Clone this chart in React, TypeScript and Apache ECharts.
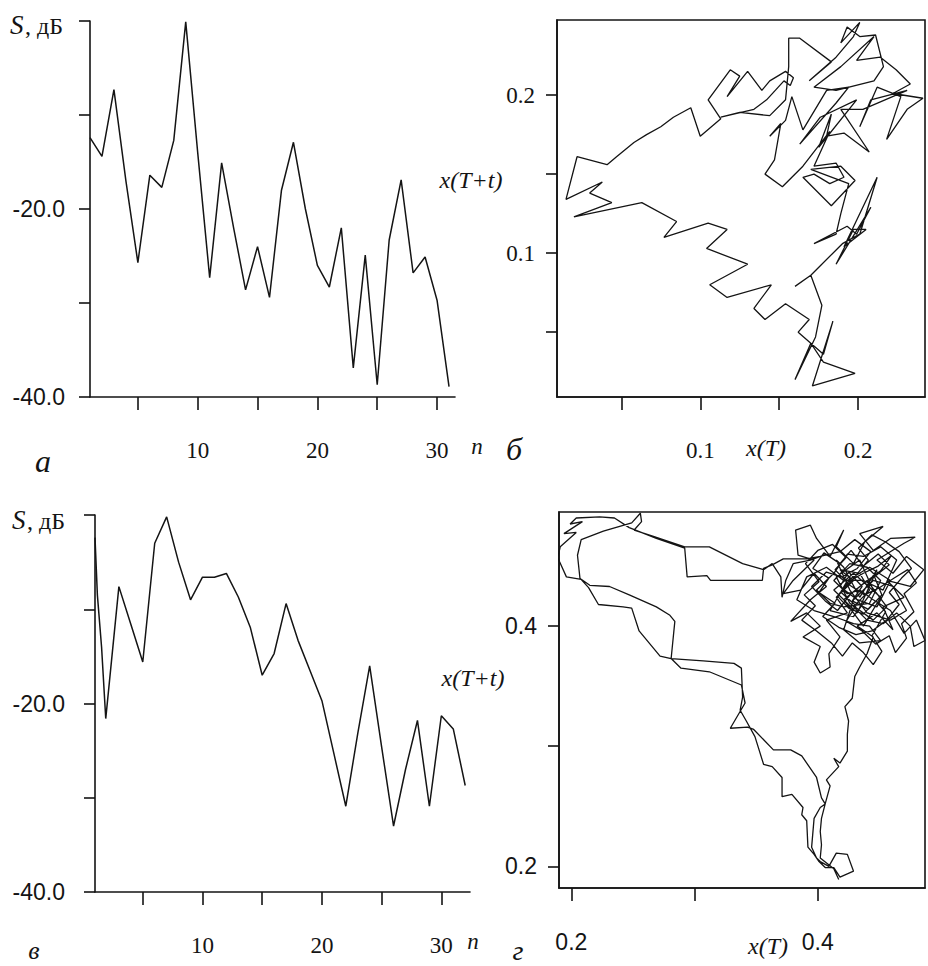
import React, { useEffect, useRef } from "react";
import * as echarts from "echarts";

// ---- Panel а: spectrum S(n), dB ----
const specA_n = [1, 2, 3, 4, 5, 6, 7, 8, 9, 10, 11, 12, 13, 14, 15, 16, 17, 18, 19, 20, 21, 22, 23, 24, 25, 26, 27, 28, 29, 30, 31];
const specA_S = [-12.4, -14.4, -7.3, -17, -25.7, -16.4, -17.7, -12.7, -0.1, -14, -27.3, -15.1, -22, -28.6, -24, -29.4, -18, -12.9, -20, -26, -28.3, -22, -36.9, -24.9, -38.7, -23.3, -16.9, -26.8, -25.1, -29.7, -38.9];

// ---- Panel в: spectrum S(n), dB ----
const specC_n = [1, 1.2, 1.55, 1.9, 3, 4, 5, 6, 7, 8, 9, 10, 11, 12, 13, 14, 15, 16, 17, 18, 19, 20, 21, 22, 23, 24, 25, 26, 27, 28, 29, 30, 31, 32];
const specC_S = [-2.4, -8.5, -14, -21.6, -7.6, -11.6, -15.6, -3.0, -0.2, -5, -9.0, -6.6, -6.6, -6.2, -8.7, -11.9, -17.0, -14.7, -9.4, -13.3, -16.5, -19.7, -25.3, -30.9, -23.2, -16.0, -24.6, -33.0, -27, -21.8, -30.9, -21.3, -22.7, -28.7];

const nTicks = [5, 10, 15, 20, 25, 30];
const nLabels = [10, 20, 30];
const sTicks = [-40, -30, -20, -10, 0];
const sLabels = [-40, -20];

// ---- Panel б: phase portrait x(T) vs x(T+t) ----
const portraitB: [number, number][] = [
  [0.160, 0.079], [0.170, 0.086], [0.177, 0.067], [0.173, 0.047], [0.160, 0.020], [0.170, 0.043], [0.178, 0.031], [0.198, 0.024],
  [0.171, 0.016], [0.184, 0.057], [0.178, 0.036], [0.170, 0.043], [0.162, 0.050], [0.169, 0.058], [0.154, 0.068], [0.141, 0.058],
  [0.134, 0.065], [0.145, 0.080], [0.117, 0.072], [0.106, 0.080], [0.130, 0.093], [0.104, 0.103], [0.117, 0.115], [0.105, 0.119],
  [0.077, 0.110], [0.085, 0.120], [0.063, 0.132], [0.020, 0.123], [0.044, 0.132], [0.030, 0.138], [0.038, 0.145], [0.015, 0.134],
  [0.022, 0.161], [0.041, 0.156], [0.047, 0.161], [0.058, 0.170], [0.066, 0.175], [0.075, 0.180], [0.083, 0.186], [0.094, 0.192],
  [0.100, 0.174], [0.113, 0.185], [0.105, 0.197], [0.119, 0.216], [0.125, 0.212], [0.117, 0.199], [0.130, 0.215], [0.139, 0.203],
  [0.144, 0.209], [0.154, 0.215], [0.159, 0.211], [0.157, 0.206], [0.153, 0.209], [0.142, 0.197], [0.134, 0.191], [0.113, 0.186],
  [0.125, 0.189], [0.144, 0.187], [0.154, 0.197], [0.156, 0.218], [0.156, 0.236], [0.163, 0.236], [0.183, 0.221], [0.169, 0.209],
  [0.186, 0.224], [0.197, 0.237], [0.201, 0.246], [0.189, 0.233], [0.193, 0.243], [0.201, 0.237], [0.211, 0.238], [0.216, 0.218],
  [0.210, 0.209], [0.186, 0.203], [0.172, 0.205], [0.189, 0.218], [0.210, 0.237], [0.199, 0.222], [0.214, 0.224], [0.224, 0.216],
  [0.233, 0.207], [0.222, 0.201], [0.241, 0.198], [0.231, 0.191], [0.218, 0.172], [0.227, 0.199], [0.212, 0.205], [0.201, 0.180],
  [0.208, 0.197], [0.231, 0.203], [0.203, 0.191], [0.189, 0.191], [0.207, 0.164], [0.191, 0.176], [0.180, 0.174], [0.183, 0.188],
  [0.175, 0.167], [0.199, 0.197], [0.176, 0.186], [0.163, 0.169], [0.186, 0.195], [0.194, 0.205], [0.180, 0.203], [0.165, 0.178],
  [0.158, 0.199], [0.154, 0.184], [0.144, 0.174], [0.151, 0.182], [0.147, 0.159], [0.141, 0.150], [0.152, 0.142], [0.165, 0.155],
  [0.182, 0.177], [0.172, 0.155], [0.186, 0.157], [0.191, 0.148], [0.182, 0.144], [0.172, 0.150], [0.165, 0.148], [0.183, 0.130],
  [0.198, 0.146], [0.189, 0.155], [0.170, 0.153], [0.194, 0.144], [0.189, 0.125], [0.186, 0.112], [0.172, 0.106], [0.193, 0.117],
  [0.199, 0.112], [0.208, 0.129], [0.186, 0.093], [0.197, 0.115], [0.205, 0.115], [0.191, 0.104], [0.212, 0.148], [0.201, 0.112],
  [0.190, 0.106], [0.170, 0.086],
];
const bTicks = [0.05, 0.1, 0.15, 0.2];
const bLabels = [0.1, 0.2];

// ---- Panel г: phase portrait x(T) vs x(T+t) ----
const portraitD: [number, number][] = [
  // lower right branch up to the cluster
  [0.417, 0.189], [0.413, 0.198], [0.402, 0.207], [0.403, 0.218], [0.402, 0.229], [0.403, 0.240], [0.406, 0.252], [0.410, 0.267],
  [0.407, 0.272], [0.417, 0.283], [0.413, 0.290], [0.418, 0.286], [0.424, 0.296], [0.424, 0.310], [0.425, 0.321], [0.422, 0.333],
  [0.428, 0.340], [0.430, 0.358], [0.434, 0.366], [0.440, 0.377],
  // cluster
  [0.445, 0.391], [0.432, 0.400], [0.448, 0.411], [0.461, 0.397], [0.453, 0.416], [0.470, 0.424], [0.456, 0.438], [0.475, 0.433],
  [0.486, 0.447], [0.472, 0.458], [0.461, 0.444], [0.448, 0.455], [0.470, 0.469], [0.479, 0.474], [0.459, 0.473], [0.445, 0.463],
  [0.434, 0.477], [0.453, 0.483], [0.438, 0.470], [0.429, 0.452], [0.415, 0.466], [0.421, 0.480], [0.410, 0.458], [0.399, 0.473],
  [0.394, 0.484], [0.382, 0.480], [0.384, 0.459], [0.397, 0.455], [0.380, 0.438], [0.372, 0.427], [0.386, 0.430], [0.397, 0.444],
  [0.407, 0.433], [0.394, 0.422], [0.378, 0.404], [0.391, 0.411], [0.402, 0.400], [0.388, 0.391], [0.402, 0.383], [0.397, 0.370],
  [0.402, 0.361], [0.410, 0.366], [0.409, 0.377], [0.418, 0.391], [0.407, 0.405], [0.424, 0.411], [0.415, 0.424], [0.429, 0.438],
  [0.418, 0.447], [0.434, 0.444], [0.442, 0.430], [0.429, 0.416], [0.440, 0.405], [0.453, 0.402], [0.464, 0.411], [0.475, 0.400],
  [0.478, 0.383], [0.487, 0.388], [0.480, 0.405], [0.470, 0.394], [0.459, 0.413], [0.445, 0.422], [0.434, 0.430], [0.424, 0.427],
  [0.413, 0.438], [0.426, 0.452], [0.440, 0.449], [0.451, 0.438], [0.442, 0.419], [0.421, 0.416], [0.410, 0.419], [0.399, 0.430],
  [0.413, 0.444], [0.424, 0.460], [0.437, 0.458], [0.451, 0.466], [0.464, 0.455], [0.453, 0.430], [0.437, 0.438], [0.421, 0.438],
  [0.407, 0.449], [0.391, 0.441], [0.383, 0.422], [0.397, 0.413], [0.413, 0.408], [0.429, 0.402], [0.442, 0.400], [0.451, 0.388],
  [0.434, 0.386], [0.421, 0.397], [0.429, 0.422], [0.445, 0.438], [0.461, 0.433], [0.472, 0.413], [0.459, 0.405], [0.440, 0.411],
  [0.426, 0.430], [0.415, 0.455], [0.421, 0.449], [0.434, 0.424], [0.448, 0.447], [0.432, 0.411], [0.413, 0.430], [0.429, 0.444],
  [0.451, 0.424], [0.437, 0.400], [0.421, 0.422], [0.440, 0.438], [0.456, 0.416], [0.445, 0.405], [0.426, 0.419], [0.415, 0.441],
  [0.434, 0.455], [0.445, 0.430], [0.429, 0.408], [0.410, 0.413], [0.424, 0.438], [0.442, 0.449], [0.459, 0.438], [0.448, 0.416],
  [0.432, 0.422], [0.418, 0.433],
  [0.425, 0.445], [0.436, 0.433], [0.428, 0.421], [0.441, 0.414], [0.452, 0.426], [0.446, 0.441], [0.458, 0.451], [0.449, 0.460],
  [0.437, 0.450], [0.427, 0.463], [0.418, 0.452], [0.405, 0.461], [0.396, 0.448], [0.409, 0.440], [0.401, 0.428], [0.414, 0.419],
  [0.404, 0.408], [0.417, 0.399], [0.431, 0.393], [0.444, 0.396], [0.456, 0.405], [0.466, 0.418], [0.458, 0.428], [0.468, 0.440],
  [0.476, 0.448], [0.466, 0.462], [0.455, 0.470], [0.444, 0.476], [0.433, 0.465], [0.441, 0.455], [0.430, 0.441], [0.419, 0.428],
  [0.431, 0.417], [0.423, 0.404], [0.436, 0.396], [0.447, 0.385], [0.458, 0.392], [0.463, 0.378], [0.472, 0.390], [0.468, 0.402],
  [0.478, 0.412], [0.470, 0.427], [0.480, 0.436], [0.473, 0.447], [0.462, 0.440], [0.450, 0.432], [0.438, 0.426], [0.426, 0.434],
  [0.414, 0.447], [0.423, 0.457], [0.412, 0.468], [0.400, 0.463], [0.390, 0.452], [0.401, 0.437], [0.389, 0.426], [0.398, 0.417],
  [0.387, 0.405], [0.399, 0.396], [0.411, 0.386], [0.420, 0.375], [0.428, 0.386], [0.437, 0.378], [0.445, 0.368], [0.452, 0.379],
  [0.444, 0.392], [0.455, 0.412], [0.447, 0.421], [0.437, 0.410], [0.425, 0.415], [0.416, 0.425], [0.425, 0.437], [0.437, 0.444],
  [0.449, 0.450], [0.460, 0.459], [0.451, 0.446], [0.439, 0.437], [0.427, 0.427], [0.416, 0.413], [0.406, 0.421], [0.395, 0.433],
  [0.407, 0.445], [0.419, 0.441], [0.432, 0.448], [0.443, 0.462], [0.430, 0.472], [0.418, 0.462], [0.402, 0.458],
  // upper band to the left, then first diagonal down
  [0.391, 0.456], [0.383, 0.456], [0.372, 0.456], [0.363, 0.451], [0.356, 0.448], [0.355, 0.438], [0.313, 0.438], [0.310, 0.442],
  [0.294, 0.441], [0.292, 0.465], [0.269, 0.473], [0.247, 0.482], [0.235, 0.490], [0.223, 0.491], [0.204, 0.490], [0.199, 0.485],
  [0.209, 0.487], [0.194, 0.477], [0.204, 0.478], [0.191, 0.466], [0.189, 0.457], [0.196, 0.441], [0.208, 0.439], [0.215, 0.434],
  [0.231, 0.433], [0.247, 0.426], [0.269, 0.416], [0.280, 0.409], [0.284, 0.404], [0.281, 0.373], [0.289, 0.365], [0.312, 0.362],
  [0.338, 0.351], [0.341, 0.336], [0.329, 0.315], [0.343, 0.316], [0.348, 0.314], [0.364, 0.297], [0.378, 0.297], [0.387, 0.292],
  [0.399, 0.274], [0.403, 0.257], [0.406, 0.252], [0.402, 0.249], [0.397, 0.240], [0.395, 0.216], [0.399, 0.207], [0.402, 0.204],
  [0.409, 0.200], [0.415, 0.211], [0.424, 0.210], [0.429, 0.196],
  // second diagonal back up, then upper band to the cluster
  [0.418, 0.191], [0.413, 0.199], [0.406, 0.199], [0.401, 0.204], [0.397, 0.210], [0.392, 0.216], [0.391, 0.238], [0.387, 0.243],
  [0.388, 0.249], [0.379, 0.260], [0.371, 0.258], [0.371, 0.274], [0.363, 0.283], [0.356, 0.285], [0.349, 0.308], [0.342, 0.321],
  [0.337, 0.330], [0.339, 0.341], [0.338, 0.365], [0.332, 0.369], [0.307, 0.371], [0.281, 0.373], [0.272, 0.375], [0.255, 0.396],
  [0.249, 0.415], [0.242, 0.416], [0.222, 0.418], [0.214, 0.432], [0.207, 0.440], [0.205, 0.459], [0.208, 0.472], [0.226, 0.479],
  [0.249, 0.486], [0.256, 0.494], [0.257, 0.487], [0.251, 0.480], [0.266, 0.475], [0.292, 0.466], [0.312, 0.466], [0.339, 0.452],
  [0.356, 0.447], [0.363, 0.452], [0.370, 0.441], [0.371, 0.424], [0.374, 0.438], [0.380, 0.452], [0.394, 0.455], [0.407, 0.460],
];
const dTicks = [0.2, 0.3, 0.4];
const dLabels = [0.2, 0.4];

const INK = "#141414";
const SERIF = '"Liberation Serif", "Times New Roman", serif';
const SANS = '"Liberation Sans", Arial, sans-serif';

function xAxisCfg(gridIndex: number, min: number, max: number, ticks: number[], labels: number[], font: string, fmt: (v: number) => string) {
  return {
    type: "value", gridIndex, min, max, position: "bottom",
    splitLine: { show: false },
    axisLine: { show: true, onZero: false, lineStyle: { color: INK, width: 1.6 } },
    axisTick: { show: true, length: 13, customValues: ticks, lineStyle: { color: INK, width: 1.6 } },
    axisLabel: { show: true, customValues: labels, margin: 42, color: INK, fontFamily: font, fontSize: 23, formatter: fmt },
  };
}
function yAxisCfg(gridIndex: number, min: number, max: number, ticks: number[], labels: number[], font: string, margin: number, fmt: (v: number) => string) {
  return {
    type: "value", gridIndex, min, max, position: "left",
    splitLine: { show: false },
    axisLine: { show: true, onZero: false, lineStyle: { color: INK, width: 1.6 } },
    axisTick: { show: true, length: 11, customValues: ticks, lineStyle: { color: INK, width: 1.6 } },
    axisLabel: { show: true, customValues: labels, margin, color: INK, fontFamily: font, fontSize: 23, formatter: fmt },
  };
}

function txt(x: number, y: number, text: string, size: number, italic: boolean, align = "center") {
  return {
    type: "text", x, y, silent: true, z: 100,
    style: {
      text, fill: INK, font: `${italic ? "italic " : ""}${size}px ${SERIF}`,
      align, verticalAlign: "middle", textAlign: align, textVerticalAlign: "middle",
    },
  };
}

export default function App() {
  const ref = useRef<HTMLDivElement>(null);
  useEffect(() => {
    if (!ref.current) return;
    const chart = echarts.init(ref.current, null, { renderer: "svg" });
    const dbFmt = (v: number) => v.toFixed(1);
    const numFmt = (v: number) => String(v);
    const lineStyle = { color: INK, width: 1.5 };
    chart.setOption({
      animation: false,
      backgroundColor: "#ffffff",
      grid: [
        { left: 90, top: 21, width: 365, height: 376, outerBoundsMode: "none" },
        { left: 557, top: 20, width: 368, height: 377, show: true, borderColor: INK, borderWidth: 1.6, backgroundColor: "transparent", outerBoundsMode: "none" },
        { left: 95, top: 515, width: 375, height: 377, outerBoundsMode: "none" },
        { left: 559, top: 512, width: 366, height: 376, show: true, borderColor: INK, borderWidth: 1.6, backgroundColor: "transparent", outerBoundsMode: "none" },
      ],
      xAxis: [
        xAxisCfg(0, 1, 31.5, nTicks, nLabels, SERIF, numFmt),
        xAxisCfg(1, 0.0093, 0.2423, bTicks, bLabels, SERIF, numFmt),
        xAxisCfg(2, 1, 32.4, nTicks, nLabels, SERIF, numFmt),
        xAxisCfg(3, 0.19, 0.487, dTicks, dLabels, SANS, numFmt),
      ],
      yAxis: [
        yAxisCfg(0, -40, 0, sTicks, sLabels, SANS, 25, dbFmt),
        yAxisCfg(1, 0.009, 0.2475, bTicks, bLabels, SERIF, 22, numFmt),
        yAxisCfg(2, -40, 0, sTicks, sLabels, SANS, 30, dbFmt),
        yAxisCfg(3, 0.182, 0.495, dTicks, dLabels, SANS, 22, numFmt),
      ],
      series: [
        { type: "line", xAxisIndex: 0, yAxisIndex: 0, data: specA_n.map((n, i) => [n, specA_S[i]]), showSymbol: false, symbol: "none", lineStyle, silent: true },
        { type: "line", xAxisIndex: 1, yAxisIndex: 1, data: portraitB, showSymbol: false, symbol: "none", lineStyle: { color: INK, width: 1.3 }, silent: true },
        { type: "line", xAxisIndex: 2, yAxisIndex: 2, data: specC_n.map((n, i) => [n, specC_S[i]]), showSymbol: false, symbol: "none", lineStyle, silent: true },
        { type: "line", xAxisIndex: 3, yAxisIndex: 3, data: portraitD, showSymbol: false, symbol: "none", lineStyle: { color: INK, width: 1.3 }, silent: true },
      ],
      graphic: [
        txt(10, 25, "S", 27, true, "left"),
        txt(25, 26, ", дБ", 24, false, "left"),
        txt(12, 520, "S", 27, true, "left"),
        txt(27, 521, ", дБ", 24, false, "left"),
        txt(477, 446, "n", 23, true),
        txt(473, 941, "n", 23, true),
        txt(43, 461, "а", 32, true),
        txt(514, 449, "б", 32, true),
        txt(34, 950, "в", 26, true),
        txt(518, 950, "г", 28, true),
        txt(766, 448, "x(T)", 24, true),
        txt(768, 946, "x(T)", 24, true),
        txt(471, 180, "x(T+t)", 24, true),
        txt(473, 678, "x(T+t)", 24, true),
      ],
    });
    return () => chart.dispose();
  }, []);
  return (
    <div
      ref={ref}
      style={{ position: "fixed", left: 0, top: 0, width: 928, height: 966, background: "#fff" }}
    />
  );
}
